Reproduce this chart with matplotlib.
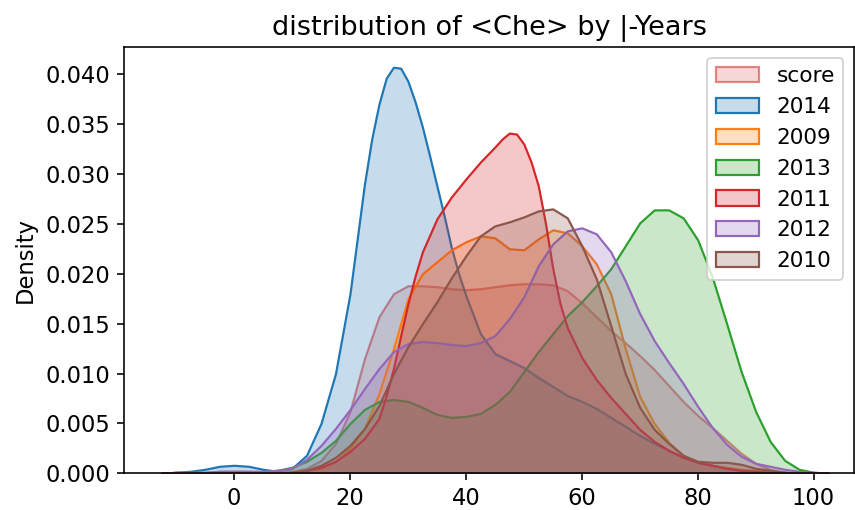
import numpy as np
import matplotlib
matplotlib.use("Agg")
import matplotlib.pyplot as plt
from matplotlib.colors import to_rgba

# puntos de evaluación (score) y densidades
grid = [-12.5, -10, -7.5, -5, -2.5, 0, 2.5, 5, 7.5, 10,
        12.5, 15, 17.5, 20, 22.5, 25, 27.5, 30, 32.5, 35,
        37.5, 40, 42.5, 45, 47.5, 50, 52.5, 55, 57.5, 60,
        62.5, 65, 67.5, 70, 72.5, 75, 77.5, 80, 82.5, 85,
        87.5, 90, 92.5, 95, 97.5, 100, 102.5]

dens_score = [0.0000, 0.0001, 0.0001, 0.0001, 0.0002, 0.0002, 0.0002, 0.0001, 0.0001, 0.0002,
              0.0005, 0.0013, 0.0030, 0.0062, 0.0115, 0.0157, 0.0180, 0.0188, 0.0188, 0.0187,
              0.0185, 0.0184, 0.0185, 0.0187, 0.0189, 0.0190, 0.0190, 0.0189, 0.0183, 0.0171,
              0.0157, 0.0143, 0.0131, 0.0118, 0.0104, 0.0088, 0.0072, 0.0058, 0.0046, 0.0033,
              0.0020, 0.0010, 0.0004, 0.0001, 0.0000, 0.0000, 0.0000]

# 2014 y 2011 tienen picos estrechos: más puntos cerca del máximo
x_2014 = [-12.5, -10, -7.5, -5, -2.5, 0, 2.5, 5, 7.5, 10,
          12.5, 15, 17.5, 20, 21.25, 22.5, 23.75, 25, 26.25, 27.5,
          28.75, 30, 31.25, 32.5, 33.75, 35, 36.25, 37.5, 38.75, 40,
          42.5, 45, 47.5, 50, 52.5, 55, 57.5, 60, 62.5, 65,
          67.5, 70, 72.5, 75, 77.5, 80, 82.5, 85, 87.5, 90,
          92.5, 95, 97.5, 100, 102.5]
dens_2014 = [0.0000, 0.0001, 0.0002, 0.0004, 0.0007, 0.0008, 0.0007, 0.0004, 0.0002, 0.0005,
             0.0018, 0.0050, 0.0100, 0.0180, 0.0235, 0.0290, 0.0335, 0.0370, 0.0396, 0.0407,
             0.0406, 0.0393, 0.0372, 0.0347, 0.0318, 0.0288, 0.0258, 0.0226, 0.0200, 0.0178,
             0.0140, 0.0120, 0.0113, 0.0106, 0.0096, 0.0087, 0.0078, 0.0072, 0.0065, 0.0056,
             0.0047, 0.0038, 0.0030, 0.0023, 0.0016, 0.0011, 0.0008, 0.0005, 0.0003, 0.0002,
             0.0001, 0.0001, 0.0000, 0.0000, 0.0000]

dens_2009 = [0.0000, 0.0000, 0.0000, 0.0000, 0.0000, 0.0000, 0.0000, 0.0000, 0.0001, 0.0002,
             0.0003, 0.0005, 0.0012, 0.0025, 0.0045, 0.0080, 0.0125, 0.0175, 0.0200, 0.0212,
             0.0224, 0.0232, 0.0238, 0.0236, 0.0225, 0.0224, 0.0235, 0.0244, 0.0241, 0.0228,
             0.0210, 0.0180, 0.0125, 0.0077, 0.0050, 0.0031, 0.0018, 0.0011, 0.0008, 0.0006,
             0.0004, 0.0003, 0.0002, 0.0001, 0.0000, 0.0000, 0.0000]

dens_2013 = [0.0000, 0.0000, 0.0000, 0.0000, 0.0000, 0.0001, 0.0001, 0.0001, 0.0003, 0.0006,
             0.0012, 0.0021, 0.0033, 0.0050, 0.0064, 0.0072, 0.0074, 0.0072, 0.0066, 0.0059,
             0.0056, 0.0057, 0.0060, 0.0069, 0.0082, 0.0102, 0.0122, 0.0140, 0.0158, 0.0172,
             0.0188, 0.0205, 0.0228, 0.0251, 0.0264, 0.0264, 0.0256, 0.0234, 0.0197, 0.0150,
             0.0102, 0.0062, 0.0032, 0.0013, 0.0004, 0.0001, 0.0000]

x_2011 = [-12.5, -10, -7.5, -5, -2.5, 0, 2.5, 5, 7.5, 10,
          12.5, 15, 17.5, 20, 22.5, 25, 26.25, 27.5, 28.75, 30,
          31.25, 32.5, 35, 37.5, 40, 42.5, 45, 46.25, 47.5, 48.75,
          50, 51.25, 52.5, 53.75, 55, 56.25, 57.5, 60, 62.5, 65,
          67.5, 70, 72.5, 75, 77.5, 80, 82.5, 85, 87.5, 90,
          92.5, 95, 97.5, 100, 102.5]
dens_2011 = [0.0000, 0.0000, 0.0000, 0.0000, 0.0000, 0.0000, 0.0000, 0.0000, 0.0000, 0.0001,
             0.0003, 0.0006, 0.0012, 0.0022, 0.0035, 0.0055, 0.0078, 0.0105, 0.0138, 0.0170,
             0.0198, 0.0222, 0.0255, 0.0277, 0.0295, 0.0312, 0.0327, 0.0335, 0.0341, 0.0340,
             0.0330, 0.0312, 0.0288, 0.0250, 0.0205, 0.0170, 0.0146, 0.0116, 0.0094, 0.0076,
             0.0060, 0.0044, 0.0032, 0.0023, 0.0016, 0.0011, 0.0008, 0.0005, 0.0003, 0.0002,
             0.0001, 0.0000, 0.0000, 0.0000, 0.0000]

dens_2012 = [0.0000, 0.0001, 0.0001, 0.0001, 0.0002, 0.0002, 0.0002, 0.0002, 0.0003, 0.0005,
             0.0014, 0.0028, 0.0045, 0.0064, 0.0085, 0.0105, 0.0122, 0.0130, 0.0132, 0.0131,
             0.0129, 0.0128, 0.0131, 0.0138, 0.0155, 0.0177, 0.0208, 0.0230, 0.0243, 0.0246,
             0.0240, 0.0222, 0.0193, 0.0160, 0.0133, 0.0111, 0.0090, 0.0067, 0.0046, 0.0029,
             0.0017, 0.0010, 0.0007, 0.0004, 0.0002, 0.0001, 0.0000]

dens_2010 = [0.0000, 0.0000, 0.0000, 0.0000, 0.0000, 0.0000, 0.0000, 0.0000, 0.0000, 0.0001,
             0.0003, 0.0008, 0.0016, 0.0028, 0.0045, 0.0068, 0.0100, 0.0127, 0.0150, 0.0172,
             0.0196, 0.0218, 0.0238, 0.0248, 0.0252, 0.0257, 0.0263, 0.0265, 0.0256, 0.0228,
             0.0195, 0.0148, 0.0100, 0.0066, 0.0044, 0.0030, 0.0018, 0.0012, 0.0011, 0.0011,
             0.0009, 0.0005, 0.0003, 0.0001, 0.0000, 0.0000, 0.0000]

etiquetas = ["score", "2014", "2009", "2013", "2011", "2012", "2010"]
xs = [grid, x_2014, grid, grid, x_2011, grid, grid]
series = [dens_score, dens_2014, dens_2009, dens_2013, dens_2011, dens_2012, dens_2010]
colores = ["#d62728", "#1f77b4", "#ff7f0e", "#2ca02c", "#d62728", "#9467bd", "#8c564b"]

FS = 11.3  # la imagen original tiene el texto algo más grande

fig = plt.figure(figsize=(855 / 144, 510 / 144), dpi=144)
ax = fig.add_axes([0.145, 0.072, 0.854, 0.836])

handles = []
for nombre, xv, dens, c in zip(etiquetas, xs, series, colores):
    if nombre == "score":
        face, edge = to_rgba(c, 0.18), to_rgba(c, 0.55)
    else:
        face, edge = to_rgba(c, 0.25), to_rgba(c, 1.0)
    h = ax.fill_between(np.array(xv), np.array(dens), facecolor=face, edgecolor=edge,
                        linewidth=1.1, label=nombre)
    handles.append(h)

ax.set_ylim(0, max(dens_2014) * 1.05)
ax.set_xlim(-19, 107)
ax.tick_params(labelsize=FS)
ax.set_ylabel("Density", fontsize=FS)
ax.set_title("distribution of <Che> by |-Years", fontsize=FS * 1.2)
ax.legend(handles=handles, labels=etiquetas, loc="upper right", fontsize=10.8)

fig.savefig("out.png", dpi=144)
